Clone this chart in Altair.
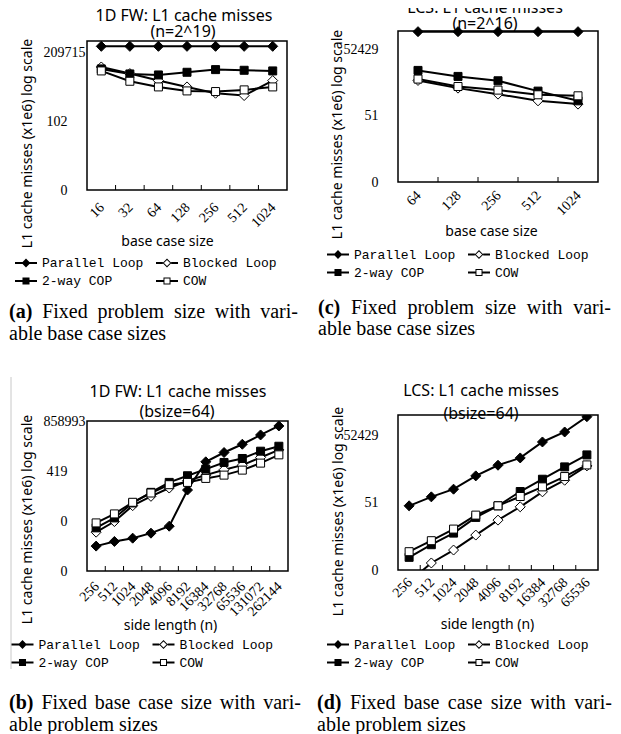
import altair as alt
import pandas as pd

SERIES = ["Parallel Loop", "Blocked Loop", "2-way COP", "COW"]
SANS = "Noto Sans"
SERIF = "Liberation Serif"
MONO = "Liberation Mono"

# ---------------- data (values in x1e6 misses) ----------------
# (a) 1D FW, n = 2^19, variable base case size
a_cats = ["16", "32", "64", "128", "256", "512", "1024"]
a_parallel = [407000, 407000, 407000, 407000, 407000, 407000, 407000]
a_blocked = [41400, 19900, 9160, 4550, 2260, 1750, 9160]
a_cop = [33300, 19100, 17100, 23000, 30900, 28700, 26700]
a_cow = [26700, 8510, 4550, 2920, 2720, 3270, 4550]
a_ticks = [0.05, 102.4, 209715.2]
a_domain = [0.05, 735000]

# (c) LCS, n = 2^16, variable base case size
c_cats = ["64", "128", "256", "512", "1024"]
c_parallel = [347000, 347000, 347000, 347000, 347000]
c_blocked = [2090, 935, 498, 247, 175]
c_cop = [5980, 3190, 2020, 684, 247]
c_cow = [2410, 1110, 759, 465, 418]
c_ticks = [0.05, 51.2, 52428.8]
c_domain = [0.05, 372000]

# (b) 1D FW, bsize = 64, variable side length
b_cats = ["256", "512", "1024", "2048", "4096", "8192", "16384", "32768",
          "65536", "131072", "262144"]
b_parallel = [0.00453, 0.00923, 0.0153, 0.0329, 0.0955, 24.3, 1830, 7600,
              27000, 112000, 444000]
b_blocked = [0.0383, 0.195, 2.23, 9.27, 33.0, 101, 239, 541, 1100, 3550, 11400]
b_cop = [0.0741, 0.340, 3.35, 17.1, 78.3, 217, 598, 1660, 3050, 9310, 19900]
b_cow = [0.158, 0.627, 3.72, 15.4, 55.0, 78.3, 144, 239, 514, 1500, 5320]
b_ticks = [0.0001, 0.2048, 419.4304, 858993.4592]
b_domain = [0.0001, 950000]

# (d) LCS, bsize = 64, variable side length
d_cats = ["256", "512", "1024", "2048", "4096", "8192", "16384", "32768", "65536"]
d_parallel = [37.0, 93.1, 205, 805, 2410, 5110, 26400, 73800, 356000]
d_blocked = [0.015, 0.103, 0.390, 1.82, 8.49, 33.4, 156, 515, 2250]
d_cop = [0.184, 0.675, 2.23, 11.2, 37.0, 161, 571, 2030, 6970]
d_cow = [0.329, 1.02, 3.37, 14.2, 37.0, 96.4, 260, 752, 2490]
d_ticks = [0.05, 51.2, 52428.8]
d_domain = [0.05, 424000]

Y_TITLE = "L1 cache misses (x1e6) log scale"

# ---------------- styling ----------------
MARK_SHAPES = ["M-1,0L0,-1L1,0L0,1Z", "M-1,0L0,-1L1,0L0,1Z",
               "M-0.8,-0.8L0.8,-0.8L0.8,0.8L-0.8,0.8Z",
               "M-0.8,-0.8L0.8,-0.8L0.8,0.8L-0.8,0.8Z"]
# legend glyphs: line + marker, drawn only with fill (open markers are rings)
_LINE = "M-1,-0.09L1,-0.09L1,0.09L-1,0.09Z"
_LINE_L_D = "M-1,-0.09L-0.38,-0.09L-0.38,0.09L-1,0.09Z"
_LINE_R_D = "M0.38,-0.09L1,-0.09L1,0.09L0.38,0.09Z"
_LINE_L_S = "M-1,-0.09L-0.32,-0.09L-0.32,0.09L-1,0.09Z"
_LINE_R_S = "M0.32,-0.09L1,-0.09L1,0.09L0.32,0.09Z"
_DIAMOND = "M0,-0.4L0.4,0L0,0.4L-0.4,0Z"
_DIAMOND_HOLE = "M0,-0.28L-0.28,0L0,0.28L0.28,0Z"
_SQUARE = "M-0.32,-0.32L0.32,-0.32L0.32,0.32L-0.32,0.32Z"
_SQUARE_HOLE = "M-0.23,-0.23L-0.23,0.23L0.23,0.23L0.23,-0.23Z"
LEGEND_SHAPES = [
    _LINE + _DIAMOND,
    _LINE_L_D + _LINE_R_D + _DIAMOND + _DIAMOND_HOLE,
    _LINE + _SQUARE,
    _LINE_L_S + _LINE_R_S + _SQUARE + _SQUARE_HOLE,
]
FILLS = ["black", "white", "black", "white"]

TIMES = {' ': 250, '(': 333, ')': 333, '-': 333, 'a': 444, 'b': 500, 'c': 444,
         'd': 500, 'e': 444, 'F': 556, 'h': 500, 'i': 278, 'l': 278, 'm': 778,
         'n': 500, 'o': 500, 'p': 500, 'r': 333, 's': 389, 't': 278, 'v': 500,
         'w': 722, 'x': 500, 'z': 444, 'g': 500, 'u': 500, 'y': 500, 'f': 333}
TIMES_BOLD = {'(': 333, ')': 333, 'a': 500, 'b': 556, 'c': 444, 'd': 556}


def twidth(s, size, bold=False):
    table = TIMES_BOLD if bold else TIMES
    return sum(table.get(ch, 500) for ch in s) * size / 1000.0


def one_row():
    return alt.Data(values=[{}])


def text(txt, x, y, font, size, weight="normal", align="left"):
    return alt.Chart(one_row()).mark_text(
        text=txt, font=font, fontSize=size, fontWeight=weight, align=align,
        baseline="middle", color="black"
    ).encode(x=alt.value(x), y=alt.value(y))


def caption_layers(label, line1, line2, x0, x1, y1, y2, size=20):
    items = [(label, True)] + [(w, False) for w in line1.split()]
    widths = [twidth(t, size, b) for t, b in items]
    gap = (x1 - x0 - sum(widths)) / (len(items) - 1)
    layers = []
    x = x0
    for (t, b), w in zip(items, widths):
        layers.append(text(t, x, y1, SERIF, size, "bold" if b else "normal"))
        x += w + gap
    layers.append(text(line2, x0, y2, SERIF, size))
    return layers


def make_df(cats, vals):
    rows = []
    for s, v in zip(SERIES, vals):
        for i, (c, y) in enumerate(zip(cats, v)):
            rows.append({"cat": c, "series": s, "value": y, "idx": i})
    return pd.DataFrame(rows)


def panel(cats, vals, ticks, domain, W, H, top, t1, t1xy, t2, t2xy, xtitle, xtxy,
          ytxy, xlabpad, legxy, cap, clip=False, extra=()):
    df = make_df(cats, vals)
    xscale = alt.Scale(type="band", domain=cats, paddingInner=0, paddingOuter=0)
    yscale = alt.Scale(type="log", domain=domain, range=[H, top], nice=False)
    xaxis = alt.Axis(
        title=xtitle, titleX=xtxy[0], titleY=xtxy[1], titleAlign="center",
        titleBaseline="middle", titleFont=SANS, titleFontSize=14,
        titleFontWeight="normal", titleColor="black",
        labelAngle=-45, labelAlign="right", labelBaseline="top",
        labelPadding=xlabpad, labelOffset=-4, labelFont=SERIF, labelFontSize=14,
        labelColor="black", labelOverlap=False, labelBound=False,
        ticks=False, domain=False, grid=False)
    yaxis = alt.Axis(
        title=Y_TITLE, titleX=ytxy[0], titleY=ytxy[1], titleAngle=-90,
        titleAlign="center", titleBaseline="middle", titleFont=SANS,
        titleFontSize=14, titleFontWeight="normal", titleColor="black",
        values=ticks, format=".0f", labelFont=SERIF, labelFontSize=14,
        labelColor="black", labelBaseline="middle", labelOverlap=False,
        labelPadding={"condition": {"test": "datum.value > 100000", "value": 2},
                      "value": 20},
        ticks=False, domain=False, grid=False)
    X = alt.X("cat:N", scale=xscale, axis=xaxis)
    Y = alt.Y("value:Q", scale=yscale, axis=yaxis)

    frame = alt.Chart(one_row()).mark_rect(
        fillOpacity=0, stroke="black", strokeWidth=1.5
    ).encode(x=alt.value(0), x2=alt.value(W), y=alt.value(top), y2=alt.value(H))
    tick_rules = alt.Chart(pd.DataFrame({"cat": cats[1:]})).mark_rule(
        color="black", strokeWidth=1
    ).encode(x=alt.X("cat:N", scale=xscale, axis=xaxis, bandPosition=0),
             y=alt.value(H), y2=alt.value(H - 5))
    lines = alt.Chart(df).mark_line(color="black", strokeWidth=2, clip=clip).encode(
        x=X, y=Y, detail="series:N", order="idx:Q")
    points = alt.Chart(df).mark_point(
        filled=True, stroke="black", strokeWidth=1, size=100, opacity=1, clip=clip
    ).encode(
        x=X, y=Y,
        shape=alt.Shape("series:N", scale=alt.Scale(domain=SERIES, range=MARK_SHAPES),
                        legend=None),
        fill=alt.Fill("series:N", scale=alt.Scale(domain=SERIES, range=FILLS),
                      legend=None))
    legend = alt.Legend(
        orient="none", legendX=legxy[0], legendY=legxy[1], columns=2,
        direction="horizontal", title=None,
        symbolSize=484, symbolStrokeWidth=0, symbolFillColor="black",
        symbolOpacity=1, labelFont=MONO, labelFontSize=13, labelColor="black",
        labelOffset=5, columnPadding=12, rowPadding=0, padding=0)
    leg = alt.Chart(df).transform_filter("false").mark_point(
        filled=True, fill="black", strokeWidth=0, opacity=1
    ).encode(
        shape=alt.Shape("series:N", scale=alt.Scale(domain=SERIES, range=LEGEND_SHAPES),
                        legend=legend))
    titles = [text(t1, t1xy[0], t1xy[1], SANS, 16, align="center"),
              text(t2, t2xy[0], t2xy[1], SANS, 16, align="center")]
    layers = list(extra) + [frame, tick_rules, lines, points, leg] + titles + \
        caption_layers(*cap)
    return alt.layer(*layers).resolve_scale(
        shape="independent"
    ).properties(width=W, height=H)


pa = panel(a_cats, [a_parallel, a_blocked, a_cop, a_cow], a_ticks, a_domain,
           200, 159, 10, "1D FW: L1 cache misses", (97, -15), "(n=2^19)", (96, 1),
           "base case size", (80, 51), (-60, 112), 10, (-72, 221),
           ("(a)", "Fixed problem size with vari-", "able base case sizes",
            -78, 211, 281, 303))
pc = panel(c_cats, [c_parallel, c_blocked, c_cop, c_cow], c_ticks, c_domain,
           200, 151, 0, "LCS: L1 cache misses", (87, -23), "(n=2^16)", (87, -7),
           "base case size", (93, 49), (-61, 103), 6, (-71, 212.5),
           ("(c)", "Fixed problem size with vari-", "able base case sizes",
            -80, 213, 277, 298))
gray_rule = alt.Chart(one_row()).mark_rule(color="#c8c8c8", strokeWidth=1).encode(
    x=alt.value(-76), y=alt.value(-38), y2=alt.value(254))
pb = panel(b_cats, [b_parallel, b_blocked, b_cop, b_cow], b_ticks, b_domain,
           201, 156, 6, "1D FW: L1 cache misses", (91, -23), "(bsize=64)", (90, -3),
           "side length (n)", (83, 54), (-60, 104), 8, (-75.5, 218.5),
           ("(b)", "Fixed base case size with vari-", "able problem sizes",
            -78, 214, 288, 310), extra=[gray_rule])
pd_ = panel(d_cats, [d_parallel, d_blocked, d_cop, d_cow], d_ticks, d_domain,
            200, 155, 0, "LCS: L1 cache misses", (83, -24), "(bsize=64)", (83, -1),
            "side length (n)", (89, 54), (-60, 96), 5, (-71, 218.5),
            ("(d)", "Fixed base case size with vari-", "able problem sizes",
             -81, 214, 288, 310), clip=True)

chart = alt.concat(
    pa, pc, pb, pd_, columns=2, spacing={"row": 225, "column": 110}, bounds="flush"
).resolve_scale(
    shape="independent", fill="independent"
).properties(
    padding={"left": 0, "top": -9, "right": 0, "bottom": 0}
).configure_view(stroke="transparent")

chart.save("out.html", embed_options={"renderer": "svg", "actions": False})
